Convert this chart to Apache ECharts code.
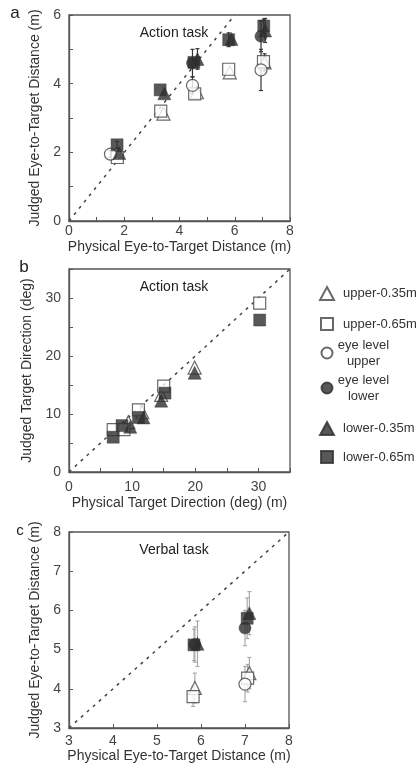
<!DOCTYPE html>
<html>
<head>
<meta charset="utf-8">
<script src="https://cdn.jsdelivr.net/npm/echarts@6/dist/echarts.min.js"></script>
<style>
  html, body { margin: 0; padding: 0; background: #fff; }
  #chart { width: 419px; height: 772px; }
</style>
</head>
<body>
<div id="chart"></div>
<script>
// Each point: [physical, judged, error half-length]

// Panel a – action task, eye-to-target distance (m)
const distUpper35 = [[3.42, 3.13, 0], [4.63, 3.75, 0], [5.82, 4.33, 0], [7.08, 4.62, 0.25]];
const distUpper65 = [[1.75, 1.85, 0], [3.32, 3.20, 0], [4.55, 3.70, 0], [5.78, 4.42, 0], [7.04, 4.64, 0]];
const distEyeUpper = [[1.50, 1.95, 0.1], [4.47, 3.95, 0.25], [6.95, 4.40, 0.6]];
const distEyeLower = [[4.47, 4.60, 0.4], [6.95, 5.38, 0.45]];
const distLower35 = [[1.82, 1.98, 0], [3.45, 3.72, 0], [4.65, 4.72, 0.3], [5.88, 5.30, 0], [7.10, 5.55, 0.35]];
const distLower65 = [[1.74, 2.22, 0.1], [3.30, 3.82, 0], [4.52, 4.62, 0], [5.78, 5.28, 0.2], [7.05, 5.68, 0.2]];

// Panel b – action task, target direction (deg)
const dirUpper35 = [[9.4, 8.6, 0], [11.6, 10.3, 0], [14.6, 13.3, 0], [19.9, 18.0, 0]];
const dirUpper65 = [[7.0, 7.3, 0], [8.7, 7.3, 0], [11.0, 10.7, 0], [15.0, 14.8, 0], [30.2, 29.1, 0]];
const dirLower35 = [[9.7, 7.8, 0], [11.8, 9.4, 0], [14.6, 12.3, 0], [19.9, 17.1, 0]];
const dirLower65 = [[7.0, 6.0, 0], [8.4, 8.0, 0], [11.0, 9.4, 0], [15.2, 13.6, 0], [30.2, 26.2, 0]];

// Panel c – verbal task, eye-to-target distance (m)
const verbUpper35 = [[5.86, 4.02, 0.38], [7.10, 4.40, 0.40]];
const verbUpper65 = [[5.82, 3.80, 0.25], [7.06, 4.27, 0.35]];
const verbEyeUpper = [[7.00, 4.12, 0.45]];
const verbEyeLower = [[5.86, 5.13, 0.45], [7.00, 5.55, 0.45]];
const verbLower35 = [[5.92, 5.15, 0.58], [7.10, 5.93, 0.55]];
const verbLower65 = [[5.84, 5.12, 0.40], [7.05, 5.80, 0.52]];

// Unity (judged = physical) reference lines
const unityA = [[0, 0], [6, 6]];
const unityB = [[0, 0], [35, 35]];
const unityC = [[3, 3], [8, 8]];

const seriesNames = ['upper-0.35m', 'upper-0.65m', 'eye level upper', 'eye level lower', 'lower-0.35m', 'lower-0.65m'];

const FONT = '"Liberation Sans", Arial, Helvetica, sans-serif';
const INK = '#333';
const FRAME = '#555';

const openStyle = { color: '#fff', borderColor: '#444', borderWidth: 1.2 };
const fillStyle = { color: '#2e2e2e', borderColor: '#2e2e2e', borderWidth: 0.5 };
const markerStyle = {
  'upper-0.35m': { symbol: 'triangle', size: 13, item: openStyle },
  'upper-0.65m': { symbol: 'rect', size: 12, item: openStyle },
  'eye level upper': { symbol: 'circle', size: 12, item: openStyle },
  'eye level lower': { symbol: 'circle', size: 12, item: fillStyle },
  'lower-0.35m': { symbol: 'triangle', size: 13, item: fillStyle },
  'lower-0.65m': { symbol: 'rect', size: 12, item: fillStyle }
};

const panels = [
  { data: [distUpper35, distUpper65, distEyeUpper, distEyeLower, distLower35, distLower65], unity: unityA, errColor: '#333' },
  { data: [dirUpper35, dirUpper65, [], [], dirLower35, dirLower65], unity: unityB, errColor: '#333' },
  { data: [verbUpper35, verbUpper65, verbEyeUpper, verbEyeLower, verbLower35, verbLower65], unity: unityC, errColor: '#aaa' }
];

const grids = [
  { left: 69, top: 15, width: 221, height: 206 },
  { left: 69, top: 269, width: 221, height: 203 },
  { left: 69, top: 532, width: 220, height: 196 }
];

function axis(gridIndex, min, max, interval, labelEvery, extra) {
  return Object.assign({
    gridIndex, type: 'value', min, max, interval,
    axisLine: { show: true, onZero: false, lineStyle: { color: FRAME, width: 1.3 } },
    axisTick: { show: true, inside: true, length: 4, lineStyle: { color: FRAME, width: 1 } },
    splitLine: { show: false },
    axisLabel: {
      color: '#444', fontFamily: FONT, fontSize: 14,
      formatter: v => (Math.round(v) % labelEvery === 0 ? String(v) : '')
    },
    nameLocation: 'middle',
    nameTextStyle: { color: INK, fontFamily: FONT, fontSize: 14 }
  }, extra);
}

const xAxes = [
  axis(0, 0, 8, 1, 2, { name: 'Physical Eye-to-Target Distance (m)', nameGap: 19, axisLabel: { color: '#444', fontFamily: FONT, fontSize: 14, margin: 3, formatter: v => (v % 2 === 0 ? String(v) : '') } }),
  axis(1, 0, 35, 5, 10, { name: 'Physical Target Direction (deg) (m)', nameGap: 24, axisLabel: { color: '#444', fontFamily: FONT, fontSize: 14, margin: 8, formatter: v => (v % 10 === 0 && v < 35 ? String(v) : '') } }),
  axis(2, 3, 8, 1, 1, { name: 'Physical Eye-to-Target Distance (m)', nameGap: 21, axisLabel: { color: '#444', fontFamily: FONT, fontSize: 14, margin: 6 } })
];
const yAxes = [
  axis(0, 0, 6, 1, 2, { name: 'Judged Eye-to-Target Distance (m)', nameGap: 26 }),
  axis(1, 0, 35, 5, 10, { name: 'Judged Target Direction (deg)', nameGap: 26, axisLabel: { color: '#444', fontFamily: FONT, fontSize: 14, formatter: v => (v % 10 === 0 && v < 35 ? String(v) : '') } }),
  axis(2, 3, 8, 1, 1, { name: 'Judged Eye-to-Target Distance (m)', nameGap: 26 })
];

function errorBars(points, gi, color) {
  return {
    type: 'custom', xAxisIndex: gi, yAxisIndex: gi, silent: true, z: 2,
    data: points.filter(p => p[2] > 0),
    encode: { x: 0, y: 1 },
    renderItem(params, api) {
      const x = api.value(0), y = api.value(1), e = api.value(2);
      const lo = api.coord([x, y - e]);
      const hi = api.coord([x, y + e]);
      const st = { stroke: color, lineWidth: 1.2 };
      return {
        type: 'group',
        children: [
          { type: 'line', shape: { x1: lo[0], y1: lo[1], x2: hi[0], y2: hi[1] }, style: st },
          { type: 'line', shape: { x1: lo[0] - 2, y1: lo[1], x2: lo[0] + 2, y2: lo[1] }, style: st },
          { type: 'line', shape: { x1: hi[0] - 2, y1: hi[1], x2: hi[0] + 2, y2: hi[1] }, style: st }
        ]
      };
    }
  };
}

const series = [];
panels.forEach((panel, gi) => {
  series.push({
    type: 'line', xAxisIndex: gi, yAxisIndex: gi, data: panel.unity, symbol: 'none', silent: true, z: 1,
    lineStyle: { color: '#444', width: 1.5, type: [3, 5] }, clip: true
  });
  panel.data.forEach(points => series.push(errorBars(points, gi, panel.errColor)));
  panel.data.forEach((points, si) => {
    const name = seriesNames[si];
    const st = markerStyle[name];
    series.push({
      type: 'scatter', name, xAxisIndex: gi, yAxisIndex: gi, z: 3,
      data: points, encode: { x: 0, y: 1 },
      symbol: st.symbol, symbolSize: st.size, itemStyle: st.item
    });
  });
});

// One legend block per condition so each row sits on its own line
const ICON_X = 326;   // icon centre
const TEXT_X = 342;   // start of single-line labels
const LEG_FONT = 13;
const legendRows = [
  { name: 'upper-0.35m', y: 292, w: 14, h: 13 },
  { name: 'upper-0.65m', y: 322, w: 12, h: 12 },
  { name: 'eye level upper', y: 353, w: 11, h: 11, two: ['eye level', 'upper'] },
  { name: 'eye level lower', y: 388, w: 11, h: 11, two: ['eye level', 'lower'] },
  { name: 'lower-0.35m', y: 427, w: 14, h: 13 },
  { name: 'lower-0.65m', y: 455, w: 12, h: 12 }
];
const legends = legendRows.map(r => ({
  data: [r.name],
  padding: 0,
  left: ICON_X - r.w / 2,
  top: r.two ? r.y - 16 : r.y - r.h / 2,
  itemWidth: r.w, itemHeight: r.h,
  selectedMode: false,
  formatter: r.two ? () => '{t|' + r.two[0] + '}\n{t|' + r.two[1] + '}' : n => n,
  textStyle: {
    color: INK, fontFamily: FONT, fontSize: LEG_FONT,
    padding: r.two ? 0 : [0, 0, 0, Math.max(0, TEXT_X - (ICON_X + r.w / 2 + 5))],
    lineHeight: 16,
    rich: { t: { width: 52, align: 'center', color: INK, fontFamily: FONT, fontSize: LEG_FONT, lineHeight: 16 } }
  }
}));

const labelText = (x, y, text, size) => ({
  type: 'text', x, y,
  style: { text, fill: '#222', font: size + 'px ' + FONT, align: 'center', verticalAlign: 'middle' }
});

const option = {
  animation: false,
  backgroundColor: '#fff',
  grid: grids.map(g => Object.assign({ show: true, borderColor: FRAME, borderWidth: 1.3, backgroundColor: 'transparent' }, g)),
  xAxis: xAxes,
  yAxis: yAxes,
  legend: legends,
  series,
  graphic: [
    labelText(15, 13, 'a', 17),
    labelText(24, 267, 'b', 17),
    labelText(20, 531, 'c', 15),
    labelText(174, 33, 'Action task', 14),
    labelText(174, 287, 'Action task', 14),
    labelText(174, 550, 'Verbal task', 14)
  ]
};

const chart = echarts.init(document.getElementById('chart'), null, { renderer: 'canvas' });
chart.setOption(option);
</script>
</body>
</html>
